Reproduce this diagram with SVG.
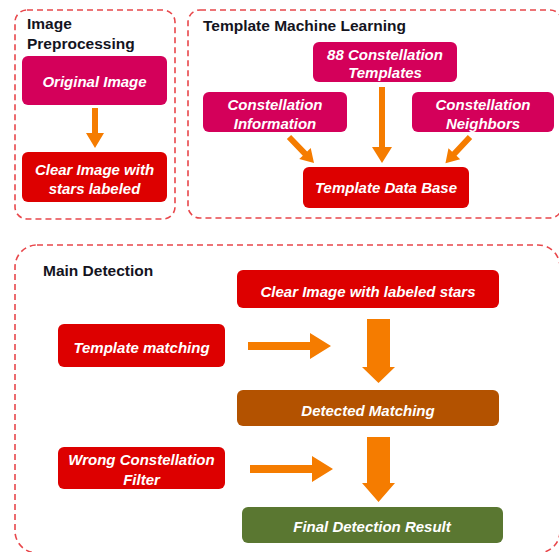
<svg xmlns="http://www.w3.org/2000/svg" width="559" height="552" viewBox="0 0 559 552">
<style>
.frame{fill:none;stroke:#e8474b;stroke-width:1.6;stroke-dasharray:6 4}
.title{font-family:"Liberation Sans",Arial,sans-serif;font-weight:bold;font-size:15.5px;fill:#14141e}
.lbl{font-family:"Liberation Sans",Arial,sans-serif;font-weight:bold;font-style:italic;font-size:15px;fill:#ffffff;text-anchor:middle}
.mag{fill:#d4005a}
.red{fill:#dd0000}
.brown{fill:#b35200}
.green{fill:#5a7731}
.arr{fill:#f57c00}
</style>
<rect width="559" height="552" fill="#ffffff"/>
<g id="frames">
<rect class="frame" x="15" y="10" width="160" height="209" rx="12"/>
<rect class="frame" x="188" y="10" width="374" height="208" rx="12"/>
<rect class="frame" x="15" y="245" width="545" height="308" rx="22"/>
<text class="title" x="27" y="29">Image</text>
<text class="title" x="27" y="49">Preprocessing</text>
<text class="title" x="203" y="31">Template Machine Learning</text>
<text class="title" x="43" y="276">Main Detection</text>
</g>
<g id="connectors">
<polygon class="arr" points="92,108 98,108 98,133 104,133 95,148 86,133 92,133"/>
<polygon class="arr" points="379,87 385,87 385,147 392,147 382,163 372,147 379,147"/>
<polygon class="arr" transform="translate(289,137) rotate(46)" points="0,-3 23,-3 23,-8 36,0 23,8 23,3 0,3"/>
<polygon class="arr" transform="translate(470,137) rotate(133)" points="0,-3 23,-3 23,-8 36,0 23,8 23,3 0,3"/>
<polygon class="arr" points="248,342 310,342 310,333 331,346 310,359 310,350 248,350"/>
<polygon class="arr" points="367,319 390,319 390,367 395,367 378.5,383 362,367 367,367"/>
<polygon class="arr" points="250,465 312,465 312,456 333,469 312,482 312,473 250,473"/>
<polygon class="arr" points="367,437 390,437 390,483 395,483 378.5,502 362,483 367,483"/>
</g>
<g id="original-image">
<rect class="mag" x="22" y="56" width="145" height="49" rx="6"/>
<text class="lbl" x="94.5" y="87">Original Image</text>
</g>
<g id="clear-image-stars-labeled">
<rect class="red" x="22" y="152" width="145" height="50" rx="6"/>
<text class="lbl" x="94.5" y="175">Clear Image with</text>
<text class="lbl" x="94.5" y="194">stars labeled</text>
</g>
<g id="constellation-templates">
<rect class="mag" x="313" y="42" width="144" height="40" rx="6"/>
<text class="lbl" x="385" y="60">88 Constellation</text>
<text class="lbl" x="385" y="78">Templates</text>
</g>
<g id="constellation-information">
<rect class="mag" x="203" y="92" width="144" height="40" rx="6"/>
<text class="lbl" x="275" y="110">Constellation</text>
<text class="lbl" x="275" y="129">Information</text>
</g>
<g id="constellation-neighbors">
<rect class="mag" x="412" y="92" width="142" height="40" rx="6"/>
<text class="lbl" x="483" y="110">Constellation</text>
<text class="lbl" x="483" y="129">Neighbors</text>
</g>
<g id="template-database">
<rect class="red" x="303" y="167" width="166" height="41" rx="6"/>
<text class="lbl" x="386" y="193">Template Data Base</text>
</g>
<g id="clear-image-labeled-stars">
<rect class="red" x="237" y="270" width="262" height="38" rx="6"/>
<text class="lbl" x="368" y="297">Clear Image with labeled stars</text>
</g>
<g id="template-matching">
<rect class="red" x="58" y="324" width="167" height="43" rx="6"/>
<text class="lbl" x="141.5" y="353">Template matching</text>
</g>
<g id="detected-matching">
<rect class="brown" x="237" y="390" width="262" height="36" rx="6"/>
<text class="lbl" x="368" y="416">Detected Matching</text>
</g>
<g id="wrong-constellation-filter">
<rect class="red" x="58" y="447" width="167" height="42" rx="6"/>
<text class="lbl" x="141.5" y="465">Wrong Constellation</text>
<text class="lbl" x="141.5" y="485">Filter</text>
</g>
<g id="final-detection-result">
<rect class="green" x="242" y="507" width="261" height="36" rx="6"/>
<text class="lbl" x="372" y="532">Final Detection Result</text>
</g>
</svg>
